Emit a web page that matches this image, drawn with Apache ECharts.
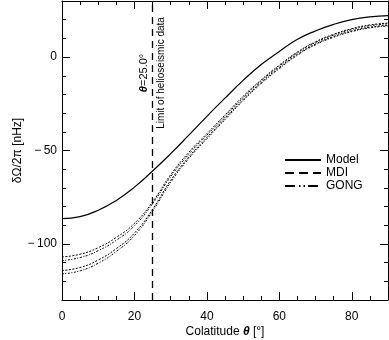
<!DOCTYPE html>
<html>
<head>
<meta charset="utf-8">
<script src="https://cdn.jsdelivr.net/npm/echarts@6/dist/echarts.min.js"></script>
<style>
html, body { margin: 0; padding: 0; background: #fff; }
#chart { width: 389px; height: 340px; }
</style>
</head>
<body>
<div id="chart"></div>
<script>
// colatitude grid (deg)
var theta = [0, 5, 10, 15, 20, 25, 30, 35, 40, 45, 50, 55, 60, 65, 70, 75, 80, 85, 90];
// model curve
var model = [-86.5, -85.4, -82.0, -76.7, -69.6, -61.0, -51.7, -41.8, -31.7, -22.0, -12.5, -4.0, 3.0, 9.5, 14.0, 17.5, 20.0, 21.5, 22.2];
// MDI upper / lower
var mdiHi = [-107.0, -105.5, -102.0, -96.5, -89.0, -77.5, -63.0, -51.0, -41.0, -31.0, -21.0, -12.2, -4.3, 2.7, 8.2, 12.2, 15.2, 17.2, 18.2];
var mdiLo = [-114.2, -112.6, -108.6, -102.5, -94.2, -81.5, -66.0, -53.5, -43.0, -32.8, -22.7, -13.6, -5.6, 1.5, 7.0, 11.0, 14.0, 16.0, 17.0];
// GONG upper / lower
var gongHi = [-108.9, -107.3, -103.6, -98.0, -90.3, -78.5, -64.0, -52.0, -41.8, -31.8, -21.7, -12.8, -4.8, 2.3, 7.8, 11.8, 14.8, 16.8, 17.8];
var gongLo = [-116.0, -114.4, -110.3, -104.0, -95.5, -82.5, -67.0, -54.3, -43.8, -33.5, -23.3, -14.2, -6.2, 1.0, 6.6, 10.6, 13.6, 15.6, 16.6];

var xMajor = [0, 20, 40, 60, 80];
var yMajor = [-100, -50, 0];
var limitTheta = 25;

var FONT = 'Liberation Sans';

function pairs(ys) {
    return theta.map(function(t, i) { return [t, ys[i]]; });
}

function xAxisDef(pos, major, withLabels) {
    var ax = {
        type: 'value', position: pos, min: 0, max: 90,
        splitLine: {show: false},
        axisLine: {show: !major, onZero: false, lineStyle: {color: '#000', width: 1}},
        axisTick: {show: true, inside: true, length: major ? 8 : 4, lineStyle: {color: '#000'}},
        axisLabel: {show: false}
    };
    if (major) {
        ax.axisTick.customValues = xMajor;
    } else {
        ax.interval = 5;
    }
    if (withLabels) {
        ax.axisLabel = {show: true, customValues: xMajor, margin: 11, color: '#000', fontFamily: FONT, fontSize: 12};
        ax.name = '{n|Colatitude }{i|θ}{n| [°]}';
        ax.nameLocation = 'middle';
        ax.nameGap = 26;
        ax.nameMoveOverlap = false;
        ax.nameTextStyle = {
            rich: {
                n: {fontFamily: FONT, fontSize: 12, color: '#000'},
                i: {fontFamily: FONT, fontSize: 12, color: '#000', fontStyle: 'italic', fontWeight: 'bold'}
            }
        };
    }
    return ax;
}

function yAxisDef(pos, major, withLabels) {
    var ax = {
        type: 'value', position: pos, min: -130, max: 30,
        splitLine: {show: false},
        axisLine: {show: !major, onZero: false, lineStyle: {color: '#000', width: 1}},
        axisTick: {show: true, inside: true, length: major ? 8 : 4, lineStyle: {color: '#000'}},
        axisLabel: {show: false}
    };
    if (major) {
        ax.axisTick.customValues = yMajor;
    } else {
        ax.interval = 10;
    }
    if (withLabels) {
        ax.axisLabel = {
            show: true, customValues: yMajor, margin: 5, color: '#000', fontFamily: FONT, fontSize: 12,
            formatter: function(v) { return v < 0 ? '\u2212\u2009' + Math.abs(v) : String(v); }
        };
        ax.name = 'δΩ/2π [nHz]';
        ax.nameLocation = 'middle';
        ax.nameGap = 38;
        ax.nameMoveOverlap = false;
        ax.nameTextStyle = {fontFamily: FONT, fontSize: 12, color: '#000'};
    }
    return ax;
}

var myChart = echarts.init(document.getElementById('chart'));

var option = {
    animation: false,
    backgroundColor: '#fff',
    grid: {left: 62, right: 1, top: 1, bottom: 40, outerBoundsMode: 'none'},
    legend: {
        orient: 'vertical',
        left: 279, top: 149,
        itemWidth: 36, itemHeight: 14, itemGap: 1,
        itemStyle: {opacity: 0},
        textStyle: {fontFamily: FONT, fontSize: 12, color: '#000'},
        data: [
            {name: 'Model'},
            {name: 'MDI', lineStyle: {type: [9, 5]}},
            {name: 'GONG', lineStyle: {type: [10, 4, 1.5, 3, 1.5, 3]}}
        ]
    },
    xAxis: [
        xAxisDef('bottom', false, false),
        xAxisDef('bottom', true, true),
        xAxisDef('top', false, false),
        xAxisDef('top', true, false)
    ],
    yAxis: [
        yAxisDef('left', false, false),
        yAxisDef('left', true, true),
        yAxisDef('right', false, false),
        yAxisDef('right', true, false)
    ],
    series: [
        {
            name: 'Model', type: 'line', smooth: true, symbol: 'none',
            lineStyle: {color: '#000', width: 1.2},
            itemStyle: {color: '#000'},
            data: pairs(model),
            markLine: {
                silent: true, symbol: 'none', label: {show: false},
                lineStyle: {color: '#000', width: 1.3, type: [7, 5]},
                data: [{xAxis: limitTheta}]
            }
        },
        {name: 'MDI', type: 'line', smooth: true, symbol: 'none',
            lineStyle: {color: '#000', width: 1, type: [2, 1.5]}, itemStyle: {color: '#000'}, data: pairs(mdiHi)},
        {name: 'MDI', type: 'line', smooth: true, symbol: 'none',
            lineStyle: {color: '#000', width: 1, type: [2, 1.5]}, itemStyle: {color: '#000'}, data: pairs(mdiLo)},
        {name: 'GONG', type: 'line', smooth: true, symbol: 'none',
            lineStyle: {color: '#000', width: 1, type: [2, 1.5, 1, 1.5]}, itemStyle: {color: '#000'}, data: pairs(gongHi)},
        {name: 'GONG', type: 'line', smooth: true, symbol: 'none',
            lineStyle: {color: '#000', width: 1, type: [2, 1.5, 1, 1.5]}, itemStyle: {color: '#000'}, data: pairs(gongLo)}
    ]
};

myChart.setOption(option);

// rotated annotation on both sides of the limit line
var p = myChart.convertToPixel({xAxisIndex: 0, yAxisIndex: 0}, [limitTheta, -8.5]);
myChart.setOption({
    graphic: [
        {
            type: 'text', x: p[0] - 9, y: p[1], rotation: Math.PI / 2,
            style: {
                text: '{i|θ}{n|=25.0°}', align: 'center', verticalAlign: 'middle',
                rich: {
                    i: {fontFamily: FONT, fontSize: 11, fontStyle: 'italic', fontWeight: 'bold', fill: '#000'},
                    n: {fontFamily: FONT, fontSize: 11, fill: '#000'}
                }
            }
        },
        {
            type: 'text', x: p[0] + 9, y: p[1], rotation: Math.PI / 2,
            style: {
                text: 'Limit of helioseismic data', align: 'center', verticalAlign: 'middle',
                fontFamily: FONT, fontSize: 10, fill: '#000'
            }
        }
    ]
});

window.addEventListener('resize', function() {
    myChart.resize();
});
</script>
</body>
</html>
